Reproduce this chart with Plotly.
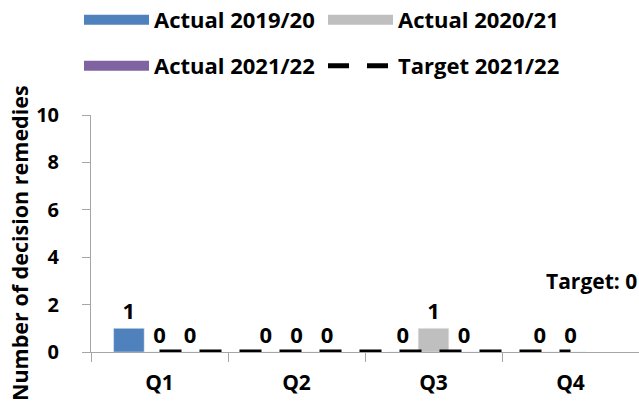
import plotly.graph_objects as go

quarters = ["Q1", "Q2", "Q3", "Q4"]
actual_1920 = [1, 0, 0, 0]
actual_2021 = [0, 0, 1, 0]
actual_2122 = [0, 0, 0, None]
target_2122 = [0, 0, 0, 0]
target_label = "Target: 0"
y_title = "Number of decision remedies"

c_blue = "#4f81bd"
c_gray = "#bfbfbf"
c_purple = "#8064a2"
FONT = "Open Sans"

def bold(size):
    return dict(family=FONT, size=size, color="black", weight="bold")

def labels(vals):
    return ["" if v is None else str(v) for v in vals]

fig = go.Figure()
for name, vals, col in [("Actual 2019/20", actual_1920, c_blue),
                        ("Actual 2020/21", actual_2021, c_gray),
                        ("Actual 2021/22", actual_2122, c_purple)]:
    fig.add_trace(go.Bar(x=quarters, y=vals, name=name, marker_color=col,
                         text=labels(vals), textposition="outside",
                         textfont=bold(22), cliponaxis=False, showlegend=False))

fig.add_trace(go.Scatter(x=quarters, y=target_2122, mode="lines", name="Target 2021/22",
                         line=dict(color="black", width=5, dash="22px,18px"),
                         showlegend=False, cliponaxis=False))

# legend entries (wide swatches like the original), two rows
legend_items = [("Actual 2019/20", c_blue, 14, "solid", "legend"),
                ("Actual 2020/21", c_gray, 14, "solid", "legend"),
                ("Actual 2021/22", c_purple, 14, "solid", "legend2"),
                ("Target 2021/22", "black", 5, "21px,18px", "legend2")]
for name, col, w, dash, lg in legend_items:
    fig.add_trace(go.Scatter(x=[None], y=[None], mode="lines", name=name, legend=lg,
                             line=dict(color=col, width=w, dash=dash)))

fig.add_annotation(text=target_label, xref="paper", x=1.0, xanchor="right",
                   yref="y", y=3, yanchor="middle", showarrow=False, font=bold(21))

fig.add_annotation(text=y_title, xref="paper", x=(19 - 91) / 548, xanchor="center",
                   yref="paper", y=(352 - 243) / 237, yanchor="middle",
                   textangle=-90, showarrow=False, font=bold(21.5))

axis_gray = "#a6a6a6"
leg_common = dict(orientation="h", xref="container", yref="container",
                  xanchor="left", yanchor="middle", itemwidth=65,
                  entrywidth=164, traceorder="normal", font=bold(22))
fig.update_layout(
    width=639, height=401,
    margin=dict(l=91, r=0, t=115, b=49),
    paper_bgcolor="white", plot_bgcolor="white",
    barmode="group", bargap=0.33, bargroupgap=0,
    font=bold(20),
    legend=dict(x=79 / 639, y=1 - 20 / 401, **leg_common),
    legend2=dict(x=79 / 639, y=1 - 66 / 401, **leg_common),
    xaxis=dict(showline=True, linecolor=axis_gray, linewidth=1,
               ticks="outside", tickcolor=axis_gray, ticklen=9, tickson="boundaries",
               showgrid=False, ticklabelstandoff=12, tickfont=bold(21)),
    yaxis=dict(range=[0, 10], dtick=2, showline=True, linecolor=axis_gray, linewidth=1,
               ticks="outside", tickcolor=axis_gray, ticklen=8, showgrid=False,
               zeroline=False, ticklabelstandoff=19, tickfont=bold(20)),
)

fig.write_html("out.html")
